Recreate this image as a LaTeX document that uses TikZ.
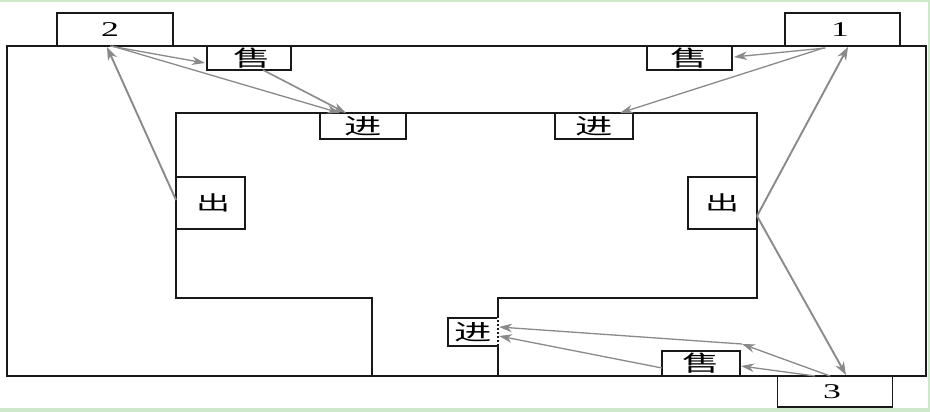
\documentclass[tikz,border=0pt]{standalone}
\usepackage{graphicx}
\usepackage{fontspec}
\setmainfont{Liberation Serif}
\newfontfamily\cjk{Noto Sans CJK SC}
\usetikzlibrary{arrows.meta}
\definecolor{bggreen}{HTML}{CDE8CB}
\definecolor{flow}{HTML}{8A8A8A}
\tikzset{
  wall/.style={line width=1.5pt,black!90},
  box/.style={draw=black!90,line width=1.5pt,fill=white,inner sep=0pt,outer sep=0pt,anchor=center},
  flowthin/.style={draw=flow,line width=1.3pt,-{Stealth[length=13pt,width=8.5pt,inset=4pt]}},
  flowbold/.style={draw=flow,line width=1.9pt,-{Stealth[length=13pt,width=9.5pt,inset=4pt]}}
}
\newcommand{\shou}{\scalebox{1.7}[1]{\fontsize{22}{22}\selectfont\cjk 售}}
\newcommand{\jin}{\scalebox{1.7}[1]{\fontsize{22}{22}\selectfont\cjk 进}}
\newcommand{\chu}{\scalebox{1.7}[1]{\fontsize{20}{20}\selectfont\cjk 出}}
\newcommand{\num}[1]{\scalebox{1.7}[1]{\fontsize{21}{21}\selectfont #1}}
\begin{document}
\begin{tikzpicture}[x=1pt,y=-1pt]
\useasboundingbox (0,0) rectangle (930,412);
\fill[bggreen] (0,0) rectangle (930,412);
\fill[white] (0,2.5) rectangle (928,407.5);
% rooms
\draw[wall] (7,46) rectangle (926,376);
\draw[wall] (372,376) -- (372,298) -- (176,298) -- (176,113) -- (757,113) -- (757,298) -- (498,298) -- (498,376);
% boxes
\node[box,minimum width=116pt,minimum height=33pt] (two) at (115,29.5) {\num{2}\kern10pt};
\node[box,minimum width=115pt,minimum height=33pt] (one) at (842.5,29.5) {\num{1}\kern5pt};
\node[box,minimum width=115pt,minimum height=31pt] (three) at (835,391.5) {\num{3}\kern6pt};
\node[box,minimum width=84pt,minimum height=24pt] (sellA) at (249,58) {\kern6pt\shou};
\node[box,minimum width=85pt,minimum height=24pt] (sellB) at (689.5,58) {\shou};
\node[box,minimum width=78pt,minimum height=25pt] (sellC) at (701,363.5) {\shou};
\node[box,minimum width=86pt,minimum height=26pt] (inA) at (363,126) {\jin};
\node[box,minimum width=78pt,minimum height=26pt] (inB) at (594,126) {\jin};
\node[box,minimum width=50pt,minimum height=28pt] (inC) at (473,332) {\jin};
\node[box,minimum width=69pt,minimum height=52pt] (outA) at (210.5,203) {\kern5pt\chu};
\node[box,minimum width=69pt,minimum height=52pt] (outB) at (722.5,203) {\chu};
\draw[white,line width=1.5pt,dash pattern=on 2pt off 2pt] (inC.north east) -- (inC.south east);
% flows
\coordinate (kink) at (742,344);
\draw[flowbold] ([yshift=3pt]outA.west) -- ([xshift=-8pt,yshift=-1pt]two.south);
\draw[flowthin] ([xshift=-5pt]two.south) -- ([xshift=-2pt,yshift=-5pt]sellA.west);
\draw[flowthin] ([xshift=-3pt]two.south) -- ([xshift=-23pt]inA.north);
\draw[flowthin,line width=1.6pt] ([xshift=14pt]sellA.south) -- ([xshift=-17pt]inA.north);
\draw[flowthin] ([xshift=-17pt,yshift=-2pt]one.south) -- ([xshift=2pt,yshift=1pt]sellB.east);
\draw[flowthin] ([xshift=-19pt,yshift=-2pt]one.south) -- ([xshift=26pt]inB.north);
\draw[flowbold] ([yshift=-13pt]outB.east) -- ([xshift=5.5pt,yshift=-1pt]one.south);
\draw[flowbold] ([yshift=-13pt]outB.east) -- ([xshift=11pt,yshift=1pt]three.north);
\draw[flowthin] ([xshift=-5pt]three.north) -- (kink);
\draw[flowthin] (kink) -- ([xshift=1pt,yshift=5pt]inC.east);
\draw[flowthin] ([xshift=-20pt]three.north) -- ([xshift=1pt,yshift=-2.5pt]sellC.east);
\draw[flowthin] ([yshift=-4.5pt]sellC.west) -- ([xshift=1pt,yshift=-4pt]inC.east);
\end{tikzpicture}
\end{document}
